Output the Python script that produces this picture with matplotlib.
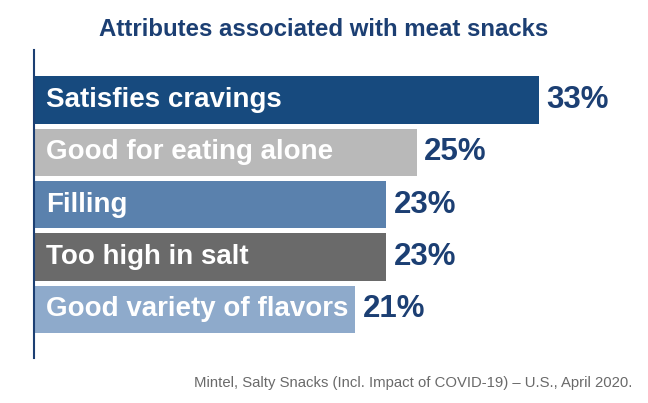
import matplotlib
matplotlib.use("Agg")
import matplotlib.pyplot as plt

categories = ["Satisfies cravings", "Good for eating alone", "Filling",
              "Too high in salt", "Good variety of flavors"]
values = [33, 25, 23, 23, 21]
colors = ["#174a7e", "#b9b9b9", "#5a81ad", "#6a6a6a", "#8eaacb"]

plt.rcParams['font.family'] = ['Liberation Sans', 'DejaVu Sans']

W, H = 648, 403
fig = plt.figure(figsize=(W / 100, H / 100), dpi=100)
ax = fig.add_axes([34 / W, 1 - 358 / H, (646 - 34) / W, (358 - 50) / H])

ypos = list(range(len(categories)))
ax.barh(ypos, values, height=0.9, color=colors, left=0)
ax.set_xlim(0, 40)
ax.set_ylim(len(categories) - 1 + 0.93, -0.956)

for y, cat, v in zip(ypos, categories, values):
    ax.text(0.8, y, cat, color="white", fontsize=20, fontweight="bold",
            va="center", ha="left")
    ax.text(v + 0.5, y, f"{v}%", color="#1c3f73", fontsize=22.5,
            fontweight="bold", va="center", ha="left")

for s in ["top", "right", "bottom"]:
    ax.spines[s].set_visible(False)
ax.spines["left"].set_color("#1c3f73")
ax.spines["left"].set_linewidth(1.5)
ax.set_xticks([])
ax.set_yticks([])

fig.text(324 / W, 1 - 30 / H, "Attributes associated with meat snacks",
         color="#1c3f73", fontsize=17.3, fontweight="bold", ha="center", va="center")
fig.text(632 / W, 1 - 383 / H,
         "Mintel, Salty Snacks (Incl. Impact of COVID-19) \u2013 U.S., April 2020.",
         color="#6a6a6a", fontsize=10.7, ha="right", va="center")

fig.savefig("out.png", dpi=100)
